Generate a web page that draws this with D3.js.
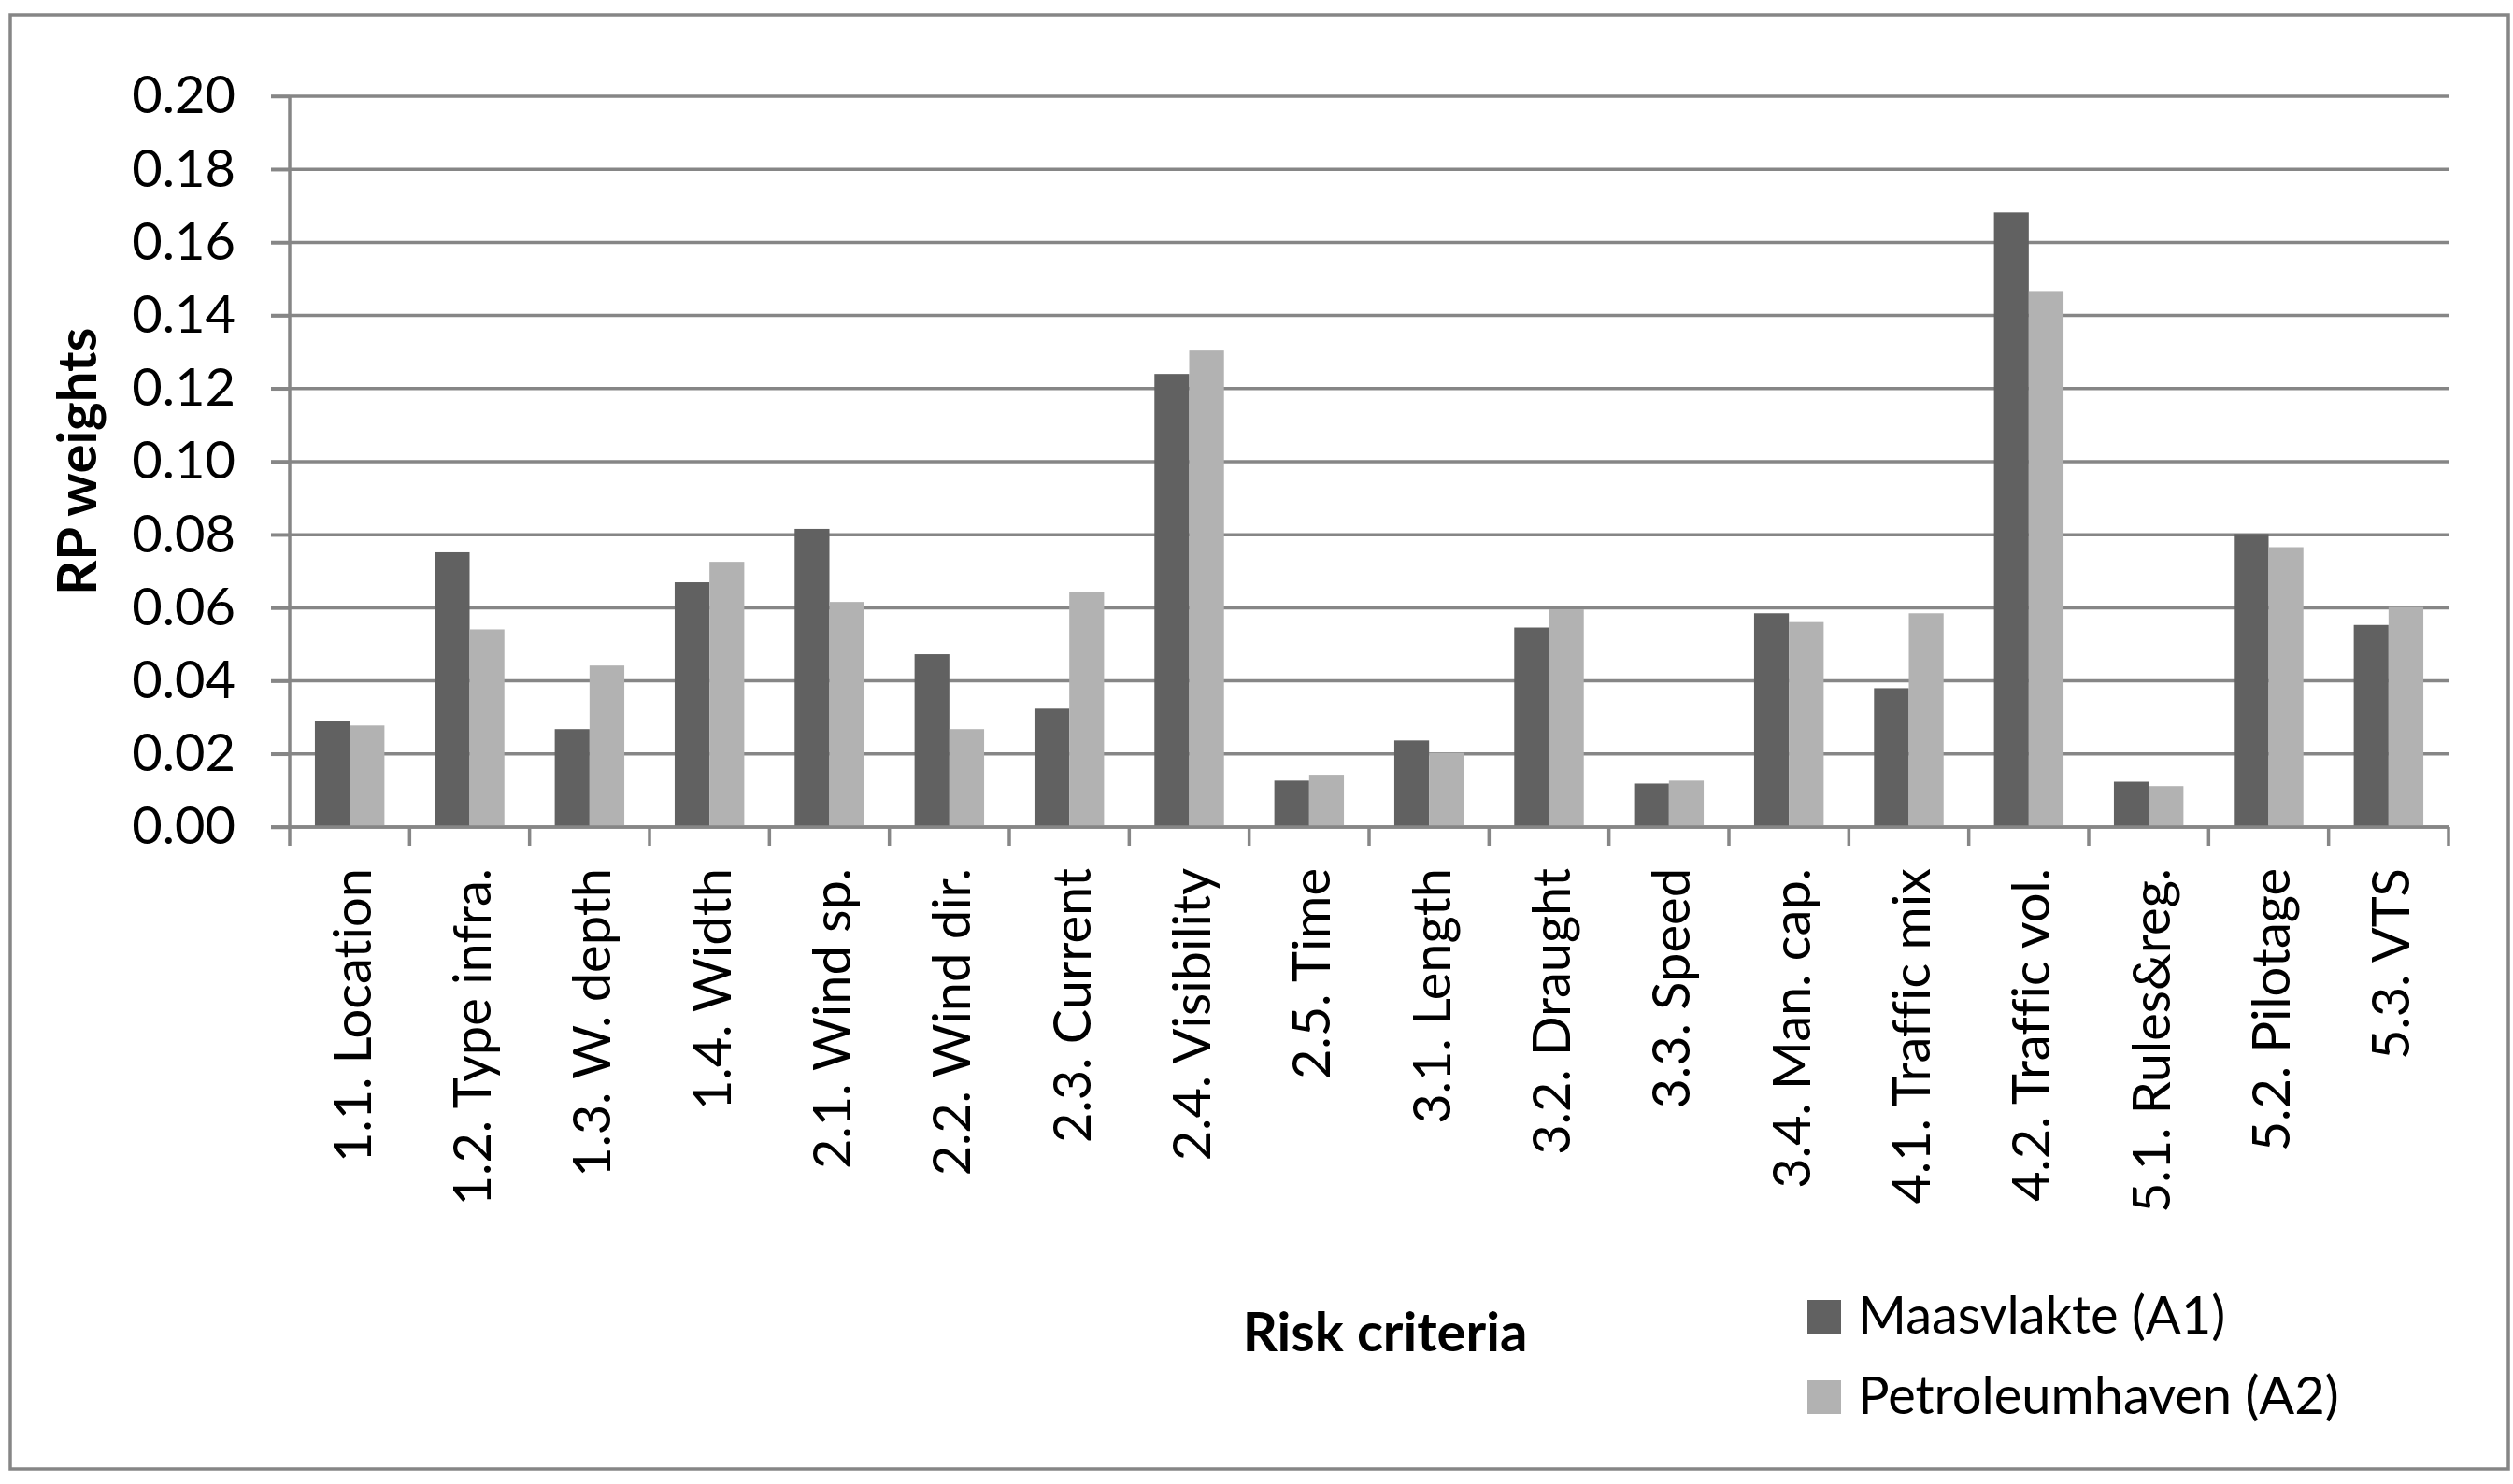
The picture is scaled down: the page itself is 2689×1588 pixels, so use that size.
<!DOCTYPE html>
<html>
<head>
<meta charset="utf-8">
<script src="https://cdn.jsdelivr.net/npm/d3@7"></script>
<style>
  html, body { margin: 0; padding: 0; background: #fff; }
  svg { display: block; }
  text { font-family: Lato, "Open Sans", sans-serif; fill: #000; font-variant-ligatures: none; font-feature-settings: "liga" 0; }
</style>
</head>
<body>
<svg id="chart" width="2689" height="1588"></svg>
<script>
const categories = ["1.1. Location","1.2. Type infra.","1.3. W. depth","1.4. Width","2.1. Wind sp.","2.2. Wind dir.","2.3. Current","2.4. Visibility","2.5. Time","3.1. Length","3.2. Draught","3.3. Speed","3.4. Man. cap.","4.1. Traffic mix","4.2. Traffic vol.","5.1. Rules&reg.","5.2. Pilotage","5.3. VTS"];
const seriesNames = ["Maasvlakte (A1)","Petroleumhaven (A2)"];
const maasvlakte = [0.0291,0.0752,0.0268,0.0670,0.0816,0.0473,0.0324,0.1240,0.0127,0.0237,0.0546,0.0119,0.0585,0.0380,0.1682,0.0124,0.0802,0.0553];
const petroleumhaven = [0.0278,0.0541,0.0442,0.0726,0.0616,0.0268,0.0643,0.1304,0.0143,0.0203,0.0596,0.0127,0.0561,0.0585,0.1467,0.0112,0.0766,0.0602];
const yTicks = [0,0.02,0.04,0.06,0.08,0.10,0.12,0.14,0.16,0.18,0.20];
const colors = ["#616161","#b2b2b2"];

(function () {
const svg = d3.select("#chart");
const mLeft = 310, mRight = 2620, mTop = 103, mBottom = 885;
const gridColor = "#868686";

// outer border
svg.append("rect").attr("x", 11).attr("y", 16).attr("width", 2673).attr("height", 1556)
  .attr("fill", "none").attr("stroke", gridColor).attr("stroke-width", 3.5);

const y = d3.scaleLinear().domain([0, 0.20]).range([mBottom, mTop]);
const x0 = d3.scaleBand().domain(categories).range([mLeft, mRight]).paddingInner(0.42).paddingOuter(0.21);
const xb = d3.scaleBand().domain(categories).range([mLeft, mRight]).padding(0);
const x1 = d3.scaleBand().domain(seriesNames).range([0, x0.bandwidth()]);

// gridlines
svg.append("g").selectAll("line").data(yTicks).join("line")
  .attr("x1", mLeft - 20).attr("x2", mRight)
  .attr("y1", d => y(d)).attr("y2", d => y(d))
  .attr("stroke", gridColor).attr("stroke-width", 3.5);

// y axis
const yAxis = svg.append("g").attr("transform", `translate(${mLeft},0)`)
  .call(d3.axisLeft(y).tickValues(yTicks).tickFormat(d3.format(".2f")).tickSize(20).tickPadding(38));
yAxis.select(".domain").remove();
yAxis.selectAll(".tick line").attr("stroke", gridColor).attr("stroke-width", 3.5);
yAxis.selectAll(".tick text").attr("font-size", 56).attr("font-family", "Lato").attr("fill", "#000");
svg.append("line").attr("x1", mLeft).attr("x2", mLeft).attr("y1", mTop).attr("y2", mBottom)
  .attr("stroke", gridColor).attr("stroke-width", 3.5);

// bars
const data = categories.map((c, i) => ({cat: c, vals: [maasvlakte[i], petroleumhaven[i]]}));
const groups = svg.append("g").selectAll("g").data(data).join("g")
  .attr("transform", d => `translate(${x0(d.cat)},0)`);
groups.selectAll("rect").data(d => d.vals.map((v, j) => ({name: seriesNames[j], v, j}))).join("rect")
  .attr("x", d => x1(d.name)).attr("width", x1.bandwidth())
  .attr("y", d => y(d.v)).attr("height", d => y(0) - y(d.v))
  .attr("fill", d => colors[d.j]);

// x axis line and boundary ticks
svg.append("line").attr("x1", mLeft - 20).attr("x2", mRight).attr("y1", mBottom).attr("y2", mBottom)
  .attr("stroke", gridColor).attr("stroke-width", 3.5);
const boundaries = categories.map(c => xb(c)).concat([mRight]);
svg.append("g").selectAll("line").data(boundaries).join("line")
  .attr("x1", d => d).attr("x2", d => d).attr("y1", mBottom).attr("y2", mBottom + 20)
  .attr("stroke", gridColor).attr("stroke-width", 3.5);

// x labels
const xAxis = svg.append("g").attr("transform", `translate(0,${mBottom})`)
  .call(d3.axisBottom(x0).tickSize(0).tickPadding(0));
xAxis.select(".domain").remove();
xAxis.selectAll(".tick text")
  .attr("font-size", 56).attr("font-family", "Lato").attr("fill", "#000")
  .attr("transform", "rotate(-90)")
  .attr("text-anchor", "end")
  .attr("x", -44).attr("y", 0).attr("dy", "0.4em");

// axis titles
svg.append("text").attr("x", 1482).attr("y", 1446).attr("text-anchor", "middle")
  .attr("font-size", 58).attr("font-weight", "bold").text("Risk criteria");
svg.append("text").attr("transform", `translate(103,${(mTop + mBottom) / 2}) rotate(-90)`)
  .attr("text-anchor", "middle").attr("font-size", 58).attr("font-weight", "bold").text("RP weights");

// legend
const legend = svg.append("g").selectAll("g").data(seriesNames).join("g")
  .attr("transform", (d, i) => `translate(1934,${1391 + i * 86})`);
legend.append("rect").attr("width", 36).attr("height", 36).attr("fill", (d, i) => colors[i]);
legend.append("text").attr("x", 54).attr("y", 36).attr("font-size", 56).text(d => d);
})();
</script>
</body>
</html>
